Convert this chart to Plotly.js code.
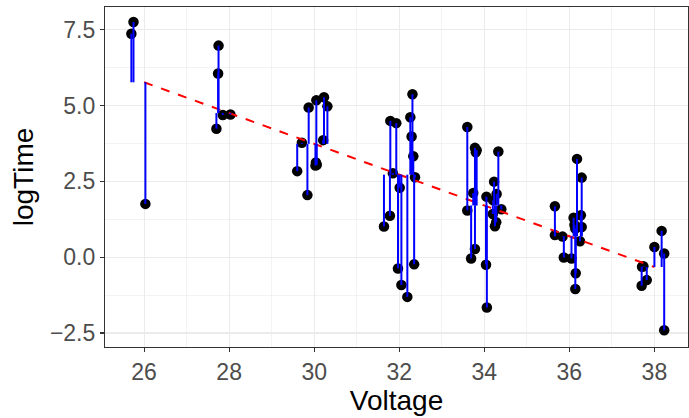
<!DOCTYPE html>
<html><head><meta charset="utf-8">
<script src="https://cdn.plot.ly/plotly-3.0.1.min.js"></script>
<style>html,body{margin:0;padding:0;background:#fff}#chart{width:689px;height:418px}</style>
</head><body><div id="chart"></div>
<script>
// nominal voltage of each test
const voltage = [26,26,26, 28,28,28,28,28,
  30,30,30,30,30,30,30,30,30,30,30,
  32,32,32,32,32,32,32,32,32,32,32,32,32,32,32,
  34,34,34,34,34,34,34,34,34,34,34,34,34,34,34,34,34,34,34,
  36,36,36,36,36,36,36,36,36,36,36,36,36,36,36,
  38,38,38,38,38,38,38,38];
// jittered voltage as drawn
const voltageJit = [25.75,25.70,26.03, 27.75,27.74,27.85,28.03,27.70,
  29.60,30.04,30.06,30.05,29.87,30.31,30.03,29.71,30.23,30.21,29.84,
  32.05,31.93,32.01,31.79,32.31,31.64,32.35,31.85,31.78,32.19,31.97,32.26,32.33,32.37,32.29,
  33.60,33.78,33.82,33.80,34.33,34.23,33.74,34.29,34.05,34.21,34.40,33.60,34.20,34.28,34.25,33.78,33.69,34.04,34.06,
  36.18,36.29,35.66,36.27,36.10,36.12,36.29,36.14,35.66,35.84,36.25,35.87,36.05,36.15,36.14,
  38.17,38.00,38.23,37.71,37.74,37.82,37.70,38.23];
const logTime = [7.751,7.365,1.756, 6.973,6.055,4.685,4.703,4.232,
  2.836,3.121,3.045,5.170,4.935,4.971,3.018,3.770,5.272,3.857,2.046,
  -0.916,4.417,2.291,4.492,5.371,1.012,-0.236,2.768,1.364,-1.309,-0.371,4.611,3.325,2.635,3.975,
  4.289,3.603,3.524,3.458,3.482,2.490,2.113,2.081,1.995,1.872,1.579,1.541,1.423,1.151,1.022,0.270,-0.041,-0.248,-1.661,
  3.239,2.623,1.677,1.384,1.300,1.065,0.997,0.948,0.728,0.678,0.525,-0.010,-0.041,-0.528,-1.050,
  0.867,0.336,0.122,-0.315,-0.301,-0.755,-0.942,-2.408];
const xTicks = [26,28,30,32,34,36,38];
const yTicks = [-2.5,0,2.5,5,7.5];
const yTickText = ['\u22122.5','0.0','2.5','5.0','7.5'];

// least-squares fit of logTime on voltage
const n = voltage.length;
const mx = voltage.reduce((a,b)=>a+b,0)/n;
const my = logTime.reduce((a,b)=>a+b,0)/n;
let sxy=0, sxx=0;
for (let i=0;i<n;i++){sxy+=(voltage[i]-mx)*(logTime[i]-my); sxx+=(voltage[i]-mx)**2;}
const slope = sxy/sxx, intercept = my - slope*mx;
const fitted = voltage.map(v=>intercept+slope*v);
const fitX = [Math.min(...voltage), Math.max(...voltage)];
const fitY = fitX.map(v=>intercept+slope*v);

const segX=[], segY=[];
for (let i=0;i<n;i++){segX.push(voltageJit[i],voltageJit[i],null); segY.push(logTime[i],fitted[i],null);}

const traces = [
  {x:voltageJit, y:logTime, mode:'markers', type:'scatter', marker:{color:'#000000', size:10.5}, hoverinfo:'skip'},
  {x:fitX, y:fitY, mode:'lines', type:'scatter', line:{color:'#FF0000', width:2, dash:'dash'}, hoverinfo:'skip'},
  {x:segX, y:segY, mode:'lines', type:'scatter', line:{color:'#0000FF', width:2}, hoverinfo:'skip'}
];
const FF = 'Liberation Sans, Arial, sans-serif';
const axFont = {family:FF, size:23, color:'#4D4D4D'};
const layout = {
  width:689, height:418, showlegend:false,
  paper_bgcolor:'#fff', plot_bgcolor:'#fff',
  margin:{l:105, r:1, t:7, b:71},
  xaxis:{range:[25.08,38.79], tickvals:xTicks, ticktext:xTicks.map(String), tickfont:axFont,
    showgrid:true, gridcolor:'#EBEBEB', gridwidth:1.2,
    minor:{dtick:1, tick0:25, showgrid:true, gridcolor:'#EBEBEB', gridwidth:0.6, ticks:''},
    ticks:'outside', ticklen:4, tickwidth:1.1, tickcolor:'#333333',
    showline:true, mirror:true, linecolor:'#333333', linewidth:1.1, zeroline:false,
    title:{text:'Voltage', font:{family:FF, size:28, color:'#000'}, standoff:4}},
  yaxis:{range:[-2.96,8.245], tickvals:yTicks, ticktext:yTickText, tickfont:axFont,
    showgrid:true, gridcolor:'#EBEBEB', gridwidth:1.2,
    minor:{tickvals:[-1.25,1.25,3.75,6.25], showgrid:true, gridcolor:'#EBEBEB', gridwidth:0.6, ticks:''},
    ticks:'outside', ticklen:4, tickwidth:1.1, tickcolor:'#333333',
    showline:true, mirror:true, linecolor:'#333333', linewidth:1.1, zeroline:false,
    title:{text:'logTime', font:{family:FF, size:28, color:'#000'}, standoff:8}}
};
Plotly.newPlot('chart', traces, layout, {staticPlot:true, displayModeBar:false});
</script></body></html>
